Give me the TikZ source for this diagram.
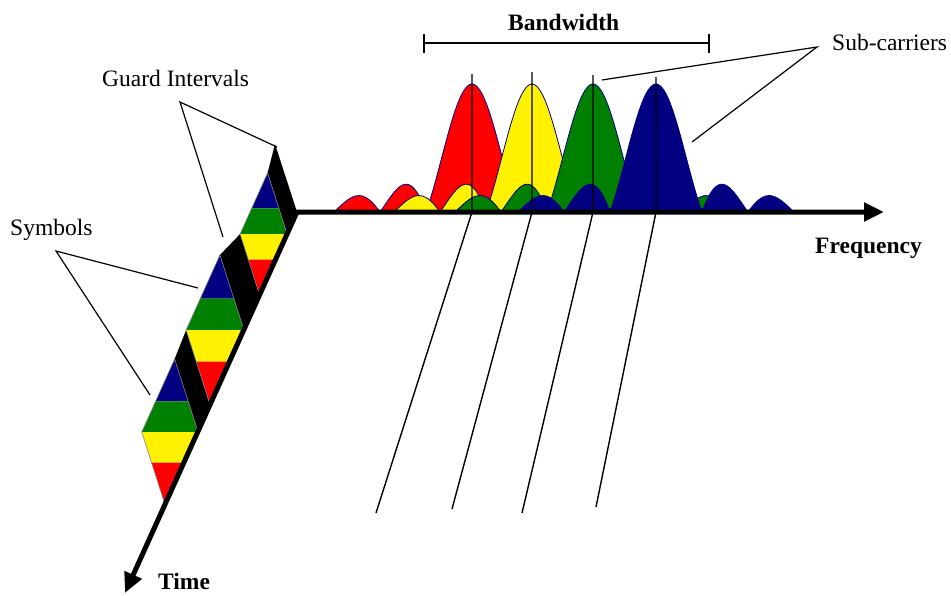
\documentclass[tikz,border=0pt]{standalone}
\usepackage{fontspec}
\setmainfont{Liberation Serif}
\usetikzlibrary{arrows.meta,calc}
\definecolor{navyblue}{RGB}{0,0,128}
\definecolor{darkgreen}{RGB}{0,128,0}

\begin{document}
\begin{tikzpicture}[x=1pt,y=-1pt,
 lbl/.style={font=\fontsize{23.5}{28}\selectfont,inner sep=0pt,anchor=base west},
 lblb/.style={lbl,font=\fontsize{23.5}{28}\selectfont\bfseries},
 axisline/.style={line width=5pt,{Triangle[length=20pt,width=18pt]}-{Triangle[length=20pt,width=18pt]}},
 leader/.style={line width=1.2pt},
 carrier/.style={draw=navyblue,line width=0.8pt},
 marker/.style={line width=1.4pt}]
\useasboundingbox (0,0) rectangle (951,595);
\coordinate (O) at (297,212);
\coordinate (tend) at (125,593);
\coordinate (fend) at (884,212);

% sub-carrier spectra, back to front
\foreach \c/\col in {472/red,532/yellow,593/darkgreen,656/navyblue}
  \filldraw[carrier,fill=\col] plot[domain=-3:3,samples=120] ({\c+46*\x},{212-128*abs(sin(180*\x)/(pi*\x))}) -- cycle;

% symbol corners along the time axis
\foreach \a/\b [count=\i] in {234/295,330/405,432/505}{
  \pgfmathsetmacro\h{\b-\a}
  \pgfmathsetmacro\xa{297-0.45*(\a-212)}
  \pgfmathsetmacro\xb{297-0.45*(\b-212)}
  \coordinate (R\i) at (\xa,\a);
  \coordinate (B\i) at (\xb,\b);
  \coordinate (T\i) at ({\xa-0.32*\h},{\a-\h});
  \coordinate (L\i) at ({\xb-0.32*\h},\a);
}

% guard intervals
\fill (275,144) -- (O) -- (R1) -- (T1) -- cycle;
\fill (L1) -- (B1) -- (R2) -- (T2) -- cycle;
\fill (L2) -- (B2) -- (R3) -- (T3) -- cycle;

% symbols
\foreach \i in {1,2,3}{
  \fill[navyblue] (T\i) -- ($(T\i)!0.58!(R\i)$) -- ($(T\i)!0.58!(L\i)$) -- cycle;
  \fill[darkgreen] ($(T\i)!0.58!(R\i)$) -- (R\i) -- (L\i) -- ($(T\i)!0.58!(L\i)$) -- cycle;
  \fill[yellow] (L\i) -- (R\i) -- ($(R\i)!0.42!(B\i)$) -- ($(L\i)!0.42!(B\i)$) -- cycle;
  \fill[red] ($(L\i)!0.42!(B\i)$) -- ($(R\i)!0.42!(B\i)$) -- (B\i) -- cycle;
  \draw[gray,line width=0.6pt] (T\i) -- (R\i) -- (B\i) -- (L\i) -- cycle;
}

% carrier centre lines
\foreach \c/\t/\ex/\ey in {472/74/376/513,532/72/452/509,593/75/522/513,656/77/596/507}
  \draw[marker] (\c,\t) -- (\c,212) -- (\ex,\ey);

% axes
\draw[axisline] (fend) -- (O) -- (tend);
\node[lblb] (freq) at (815,253) {Frequency};
\node[lblb] (time) at (158,589) {Time};

% bandwidth
\node[lblb] (bw) at (508,30) {Bandwidth};
\coordinate (bwl) at (423,43);
\coordinate (bwr) at (710,43);
\draw[line width=1.6pt,{Bar[width=19pt]}-{Bar[width=19pt]}] (bwl) -- (bwr);

% labels with leaders
\node[lbl] (sc) at (832,50) {Sub-carriers};
\coordinate (scroot) at (817,47);
\coordinate (sc1) at (602,80);
\coordinate (sc2) at (692,142);
\draw[leader] (sc1) -- (scroot) -- (sc2);

\node[lbl] (gi) at (102,86) {Guard Intervals};
\coordinate (giroot) at (180,102);
\coordinate (gi1) at (277,147);
\coordinate (gi2) at (223,237);
\draw[leader] (gi1) -- (giroot) -- (gi2);

\node[lbl] (sym) at (10,235) {Symbols};
\coordinate (symroot) at (56,251);
\coordinate (sym1) at (198,288);
\coordinate (sym2) at (150,395);
\draw[leader] (sym1) -- (symroot) -- (sym2);
\end{tikzpicture}
\end{document}
